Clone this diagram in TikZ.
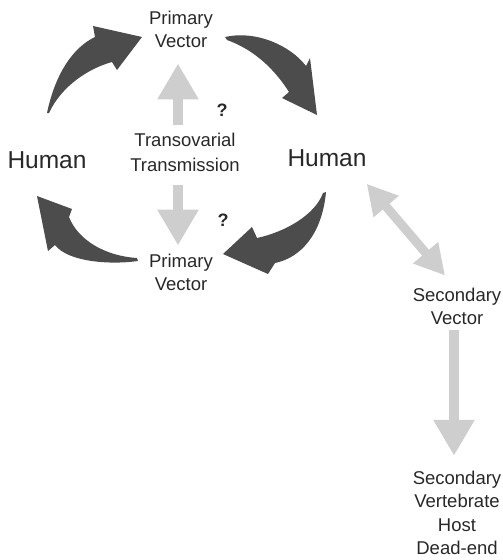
\documentclass[tikz,border=0pt]{standalone}
\usepackage{fontspec}
\setmainfont{Liberation Sans}
\usepackage{xcolor}
\definecolor{txtgray}{RGB}{40,40,40}
\definecolor{cyclegray}{RGB}{76,76,76}
\definecolor{linkgray}{RGB}{206,206,206}
\usetikzlibrary{arrows.meta, calc}

\begin{document}
\begin{tikzpicture}[
  x=1pt, y=-1pt,
  lbl/.style={inner sep=0pt, align=center, text=txtgray,
              font=\fontsize{18.5}{23}\selectfont},
  host/.style={inner sep=0pt, text=txtgray, font=\fontsize{24.5}{28}\selectfont},
  qmark/.style={inner sep=0pt, text=txtgray, font=\bfseries\fontsize{18}{20}\selectfont},
  cycarr/.style={fill=cyclegray},
  linkarr/.style={-{Triangle[length=36pt, width=39pt]}, line width=10pt, draw=linkgray},
  dblarr/.style={{Triangle[length=30pt, width=31pt]}-{Triangle[length=30pt, width=31pt]},
                 line width=9pt, draw=linkgray}
]
\useasboundingbox (0,0) rectangle (503,560);

% Hosts and vectors of the cycle
\node[lbl] (pvtop) at (181,29) {Primary\\Vector};
\node[host] (hleft) at (47,160) {Human};
\node[host] (hright) at (327,158) {Human};
\node[lbl] (pvbot) at (181,272) {Primary\\Vector};
\node[lbl, font=\fontsize{18.5}{25}\selectfont] (trans) at (185,152) {Transovarial\\Transmission};
\node[qmark] (q1) at (222,110) {?};
\node[qmark] (q2) at (223,220) {?};

% Secondary branch
\node[lbl] (secvec) at (457,306) {Secondary\\Vector};
\node[lbl, font=\fontsize{18.5}{23.5}\selectfont] (sechost) at (457,513) {Secondary\\Vertebrate\\Host\\Dead-end};

% Curved cycle arrows
\fill[cycarr] (47,113) .. controls (55,75) and (72,48) .. (95,37) -- (93,26) -- (142,37)
  -- (117,70) -- (112,62) .. controls (90,68) and (62,85) .. (49,113) -- cycle;
\fill[cycarr] (225,37) .. controls (255,30) and (290,45) .. (306,66) -- (310,58) -- (317,115)
  -- (282,98) -- (289,92) .. controls (275,70) and (255,50) .. (227,40) -- cycle;
\fill[cycarr] (326,192) .. controls (322,235) and (300,258) .. (275,263) -- (268,274) -- (223,254)
  -- (252,227) -- (257,238) .. controls (285,232) and (315,215) .. (323,193) -- cycle;
\fill[cycarr] (138,261) .. controls (110,265) and (68,262) .. (55,245) -- (48,251) -- (37,196)
  -- (72,209) -- (69,217) .. controls (78,240) and (105,256) .. (137,258) -- cycle;

% Transovarial arrows
\draw[linkarr] ($(trans.north)+(-7,-8)$) -- ($(pvtop.south)+(-3,16)$);
\draw[linkarr] ($(trans.south)+(-7,14)$) -- ($(pvbot.north)+(-3,-8)$);

% Secondary transmission
\draw[dblarr] ($(hright.south east)+(0,17)$) -- ($(secvec.north)+(-12,-12)$);
\draw[linkarr] ($(secvec.south)+(-3,6)$) -- ($(sechost.north)+(-3,-15)$);
\end{tikzpicture}
\end{document}
